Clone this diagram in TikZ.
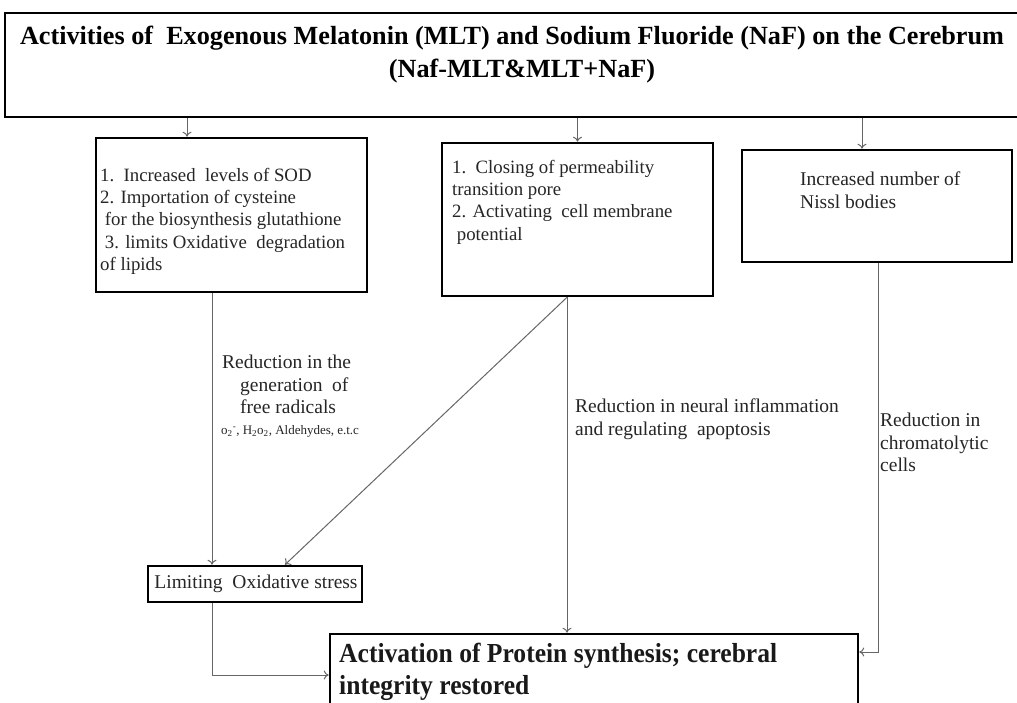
\documentclass[tikz,border=0pt]{standalone}
\usepackage{fontspec}
\setmainfont{Liberation Serif}
\newfontfamily\condser[FakeStretch=0.93]{Liberation Serif}
\usetikzlibrary{arrows.meta}
\tikzset{
  box/.style={draw=black, line width=2.6pt, inner sep=0pt},
  conn/.style={draw=black!60, line width=1pt},
  arr/.style={conn, -{To[length=5pt,width=9pt]}},
  txt/.style={inner sep=0pt, align=left, text=black!85, font=\fontsize{19.5}{22.5}\selectfont},
  btxt/.style={txt, font=\fontsize{18.8}{22.2}\selectfont},
}
\begin{document}
\begin{tikzpicture}[x=1pt,y=-1pt]
\useasboundingbox (0,0) rectangle (1017,702);
\clip (0,0) rectangle (1017,702);
\fill[white] (0,0) rectangle (1017,702);
% boxes
\node[box, minimum width=1025pt, minimum height=104pt] (top) at (517.5,65) {};
\node[inner sep=0pt, align=center, font=\bfseries\fontsize{26.2}{33}\selectfont] (title) at (512,55)
  {Activities of\ \ Exogenous Melatonin (MLT) and Sodium Fluoride (NaF) on the Cerebrum\\ \hspace*{20pt}(Naf-MLT\&MLT+NaF)};
\node[box, minimum width=271pt, minimum height=154pt] (b1) at (231.5,215) {};
\node[btxt, anchor=north west] (t1) at (100,168) {1.\ \ Increased\ \ levels of SOD\\2. Importation of cysteine\\\ for the biosynthesis glutathione\\\ 3. limits Oxidative\ \ degradation\\of lipids};
\node[box, minimum width=271pt, minimum height=153pt] (b2) at (577.5,219.5) {};
\node[btxt, anchor=north west] (t2) at (452,160) {1.\ \ Closing of permeability\\transition pore\\2. Activating\ \ cell membrane\\\ potential};
\node[box, minimum width=270pt, minimum height=112pt] (b3) at (877,206) {};
\node[txt, anchor=north west] (t3) at (800,172) {Increased number of\\Nissl bodies};
\node[box, minimum width=214pt, minimum height=36pt] (lim) at (255,584) {};
\node[txt, anchor=center] (t4) at (256,584) {Limiting\ \ Oxidative stress};
\node[box, minimum width=528pt, minimum height=90pt] (act) at (594,679) {};
\node[inner sep=0pt, align=left, anchor=north west, text=black!90, font=\condser\bfseries\fontsize{27.5}{32}\selectfont] (t5) at (339,643) {Activation of Protein synthesis; cerebral\\integrity restored};
% labels
\node[txt, anchor=north west] (l1) at (222,355) {Reduction in the\\\hspace*{18pt}generation\ \ of\\\hspace*{18pt}free radicals};
\node[txt, anchor=north west, font=\fontsize{13}{14}\selectfont] (l1b) at (221,425) {o\textsubscript{2}\textsuperscript{-}, H\textsubscript{2}o\textsubscript{2}, Aldehydes, e.t.c};
\node[txt, anchor=north west] (l2) at (575,399) {Reduction in neural inflammation\\and regulating\ \ apoptosis};
\node[txt, anchor=north west] (l3) at (880,413) {Reduction in\\chromatolytic\\cells};
% connectors
\coordinate (x1) at (187,0);
\coordinate (x3) at (862,0);
\coordinate (x4) at (212,0);
\coordinate (x5) at (567,0);
\coordinate (x6) at (878,0);
\coordinate (x7) at (285,0);
\draw[arr] (x1 |- top.south) -- (x1 |- b1.north);
\draw[arr] (top.south -| b2.north) -- (b2.north);
\draw[arr] (x3 |- top.south) -- (x3 |- b3.north);
\draw[arr] (x4 |- b1.south) -- (x4 |- lim.north);
\draw[arr] (x5 |- b2.south) -- (x7 |- lim.north);
\draw[arr] (x5 |- b2.south) -- (x5 |- act.north);
\draw[arr] (x6 |- b3.south) -- (x6 |- 0,652) -- (act.east |- 0,652);
\draw[arr] (x4 |- lim.south) -- (x4 |- 0,675) -- (act.west |- 0,675);
\end{tikzpicture}
\end{document}
